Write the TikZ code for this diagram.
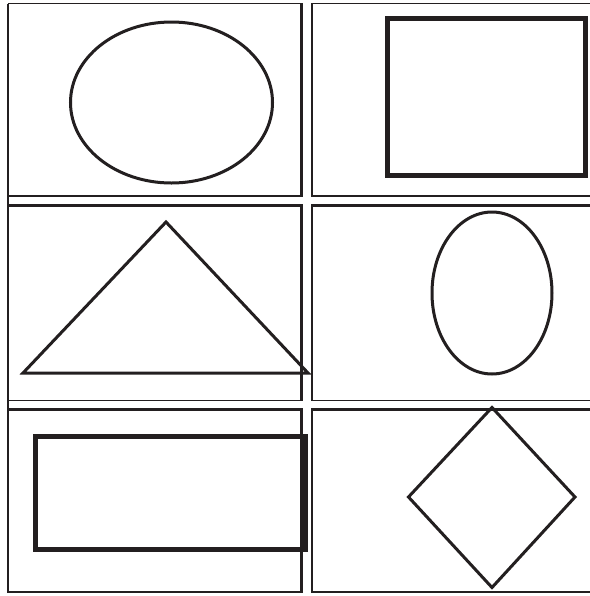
\documentclass[tikz,border=0pt]{standalone}
\usepackage{xcolor}
\definecolor{ink}{HTML}{231F20}
\begin{document}
\begin{tikzpicture}[x=0.5pt,y=-0.5pt,
  gridline/.style={draw=ink,line cap=butt},
  shapeline/.style={draw=ink,line width=1.5pt,line join=miter},
  boxline/.style={draw=ink,line join=miter}]
\fill[white] (0,0) rectangle (590,596);
\useasboundingbox (0,0) rectangle (590,596);
% outer left line (continuous)
\draw[gridline,line width=0.9pt] (8,3.5) -- (8,592.5);
% horizontal lines, left column
\draw[gridline,line width=0.9pt] (8,3.5) -- (302.5,3.5);
\draw[gridline,line width=1.4pt] (8,196) -- (302.5,196);
\draw[gridline,line width=1.1pt] (8,205.5) -- (302.5,205.5);
\draw[gridline,line width=0.9pt] (8,400.5) -- (302.5,400.5);
\draw[gridline,line width=1.4pt] (8,409.5) -- (302.5,409.5);
\draw[gridline,line width=1.1pt] (8,592) -- (302.5,592);
% horizontal lines, right column
\draw[gridline,line width=0.9pt] (311,3.5) -- (590,3.5);
\draw[gridline,line width=1.4pt] (311,196) -- (590,196);
\draw[gridline,line width=1.1pt] (311,205.5) -- (590,205.5);
\draw[gridline,line width=0.9pt] (311,400.5) -- (590,400.5);
\draw[gridline,line width=1.4pt] (311,409.5) -- (590,409.5);
\draw[gridline,line width=1.1pt] (311,592) -- (590,592);
% right border of left cells
\draw[gridline,line width=1.8pt] (301.5,3) -- (301.5,196.7);
\draw[gridline,line width=1.8pt] (301.5,205) -- (301.5,401);
\draw[gridline,line width=1.8pt] (301.5,409) -- (301.5,592.5);
% left border of right cells
\draw[gridline,line width=1.25pt] (312,3) -- (312,196.7);
\draw[gridline,line width=1.25pt] (312,205) -- (312,401);
\draw[gridline,line width=1.25pt] (312,409) -- (312,592.5);
% shapes
\draw[shapeline] (171.5,102.5) ellipse [x radius=50.5pt, y radius=40.25pt];
\draw[boxline,line width=2.4pt] (387.5,18.5) rectangle (585.5,175.5);
\draw[shapeline] (166,222) -- (308,373) -- (23,373) -- cycle;
\draw[shapeline] (492,293) ellipse [x radius=30pt, y radius=40.5pt];
\draw[boxline,line width=2.7pt] (35.5,436.5) rectangle (305.5,549.5);
\draw[shapeline] (492,407.5) -- (575,497) -- (492,587.5) -- (408.5,497) -- cycle;
\end{tikzpicture}
\end{document}
